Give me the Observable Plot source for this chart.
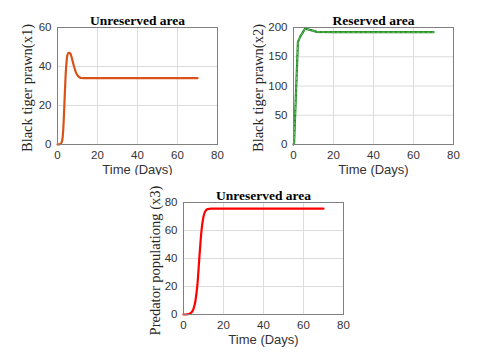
<!DOCTYPE html>
<html><head><meta charset="utf-8">
<script src="https://cdn.jsdelivr.net/npm/d3@7"></script>
<script src="https://cdn.jsdelivr.net/npm/@observablehq/plot@0.6"></script>
<style>
body{margin:0;background:#fff;}
#root{position:relative;width:480px;height:360px;overflow:hidden;background:#fff;}
.panel{position:absolute;}
</style></head><body><div id="root"></div>
<script>
// Panel 1: Unreserved area, x1
const t1 = [0,1,1.5,2,2.5,3,3.5,4,4.5,5,5.5,6,6.5,7,8,9,10,11,12,14,20,70];
const x1 = [0,0.1,0.3,1,3,10,22,34,42,46,47,47,46.5,45,41,37.5,35.5,34.5,34.1,34,34,34];
// Panel 2: Reserved area, x2
const t2 = [0,0.3,2.2,3.3,5.8,8.3,11.7,20,70];
const x2 = [0,3,175,184,198,196,192.5,192,192];
// Panel 3: Unreserved area, x3
const t3 = [0,2,3,4,5,6,7,8,9,10,11,12,14,70];
const x3 = [0,0.2,0.5,1.5,4,10,22,42,60,70,74,75.3,75.6,75.6];

const xTicks = [0,20,40,60,80];
const yTicks1 = [0,20,40,60];
const yTicks2 = [0,50,100,150,200];
const yTicks3 = [0,20,40,60,80];

const panels = [
  {left:0, top:0, width:240, height:180, ml:57, mr:23, mt:27, mb:36,
   t:t1, v:x1, yDomain:[0,60], yTicks:yTicks1, color:"#D95319", curve:"monotone-x",
   title:"Unreserved area", ylabel:"Black tiger prawn(x1)", ylabelDx:-30, dash:false},
  {left:240, top:0, width:240, height:180, ml:53, mr:27, mt:27, mb:36,
   t:t2, v:x2, yDomain:[0,200], yTicks:yTicks2, color:"#1C8A1C", curve:"linear",
   title:"Reserved area", ylabel:"Black tiger prawn(x2)", ylabelDx:-35, dash:true},
  {left:130, top:175, width:230, height:185, ml:53, mr:17, mt:27, mb:46,
   t:t3, v:x3, yDomain:[0,80], yTicks:yTicks3, color:"#FF0000", curve:"monotone-x",
   title:"Unreserved area", ylabel:"Predator populationg (x3)", ylabelDx:-28, dash:false}
];

const root = document.getElementById("root");
for (const p of panels) {
  const data = p.t.map((t,i)=>({t, v:p.v[i]}));
  const marks = [
    Plot.gridX(xTicks,{stroke:"#dcdcdc", strokeOpacity:1}),
    Plot.gridY(p.yTicks,{stroke:"#dcdcdc", strokeOpacity:1}),
    Plot.axisX({ticks:xTicks, tickSize:0, tickPadding:6, label:null, fontSize:11.5, color:"#333"}),
    Plot.axisY({ticks:p.yTicks, tickSize:0, tickPadding:6, label:null, fontSize:11.5, color:"#333"}),
    Plot.lineY(data,{x:"t", y:"v", stroke:p.color, strokeWidth:2.2, curve:p.curve})
  ];
  if (p.dash) marks.push(Plot.lineY(data,{x:"t", y:"v", stroke:"#86cc86", strokeWidth:0.8, strokeDasharray:"3,2", curve:p.curve}));
  marks.push(
    Plot.frame({stroke:"#808080", strokeWidth:1}),
    Plot.text([p.title],{frameAnchor:"top", dy:-12, fontFamily:"Liberation Serif, Times New Roman, serif", fontWeight:"bold", fontSize:13.5, fill:"#000"}),
    Plot.text([p.ylabel],{frameAnchor:"left", textAnchor:"middle", dx:p.ylabelDx, dy:2, rotate:-90, fontFamily:"Liberation Serif, Times New Roman, serif", fontSize:14.5, fill:"#262626"}),
    Plot.text(["Time (Days)"],{frameAnchor:"bottom", dy:29, fontSize:13, fill:"#333"})
  );
  const chart = Plot.plot({
    width:p.width, height:p.height,
    marginLeft:p.ml, marginRight:p.mr, marginTop:p.mt, marginBottom:p.mb,
    style:{background:"white", overflow:"visible", fontFamily:"Liberation Sans, Arial, sans-serif"},
    x:{domain:[0,80]},
    y:{domain:p.yDomain},
    marks
  });
  chart.classList.add("panel");
  chart.style.left = p.left + "px";
  chart.style.top = p.top + "px";
  chart.style.position = "absolute";
  root.appendChild(chart);
}
</script></body></html>
